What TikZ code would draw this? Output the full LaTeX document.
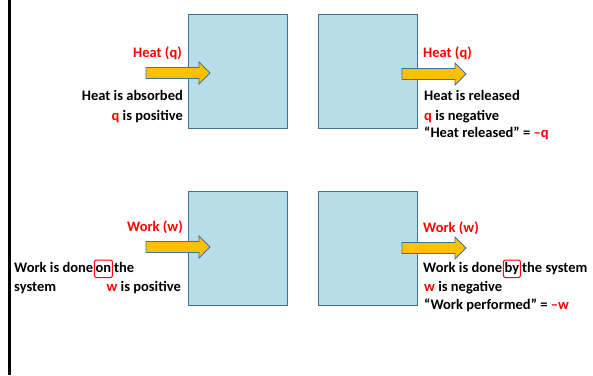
\documentclass[tikz,border=0pt]{standalone}
\usepackage{fontspec}
\setmainfont{Carlito}
\definecolor{myred}{RGB}{255,0,0}
\definecolor{boxfill}{RGB}{183,221,232}
\definecolor{boxline}{RGB}{65,113,156}
\definecolor{gold}{RGB}{255,192,0}
\tikzset{
  sysbox/.style={draw=boxline, fill=boxfill, line width=1pt, minimum width=99pt, minimum height=114pt, inner sep=0pt},
  arrowstyle/.style={draw=boxline, fill=gold, line width=0.9pt, line join=miter},
  fatarrow/.pic={\draw[arrowstyle] (0,-5.5) -- (53,-5.5) -- (53,-11) -- (64,0) -- (53,11) -- (53,5.5) -- (0,5.5) -- cycle;},
  txt/.style={inner sep=0pt, font=\bfseries\fontsize{14.5}{17}\selectfont},
  rtxt/.style={txt, text=myred},
  ringed/.style={txt, draw=myred, line width=1pt, rounded corners=2pt, inner xsep=1.2pt, inner ysep=2pt, text height=10pt, text depth=3.5pt}
}
\begin{document}
\begin{tikzpicture}[x=1pt,y=-1pt]
\useasboundingbox (0,0) rectangle (593,375);
\draw[line width=2.8pt] (9.5,0) -- (9.5,375);
% boxes
\node[sysbox] (b1) at (237.5,71) {};
\node[sysbox] (b2) at (367.5,71) {};
\node[sysbox] (b3) at (237.5,248) {};
\node[sysbox] (b4) at (367.5,248) {};
% arrows
\pic at (146,73) {fatarrow};
\pic at (402,74) {fatarrow};
\pic at (146,247) {fatarrow};
\pic at (402,248) {fatarrow};
% top left
\node[rtxt, anchor=base east] (h1) at (182,57) {Heat (q)};
\node[txt, anchor=base east] (h1a) at (183,100) {Heat is absorbed};
\node[txt, anchor=base east] (h1b) at (183,120) {\textcolor{myred}{q} is positive};
% top right
\node[rtxt, anchor=base west] (h2) at (423,57) {Heat (q)};
\node[txt, anchor=base west] (h2a) at (424,100) {Heat is released};
\node[txt, anchor=base west] (h2b) at (424,120) {\textcolor{myred}{q} is negative};
\node[txt, anchor=base west] (h2c) at (424,137) {“Heat released” = \textcolor{myred}{–q}};
% bottom left
\node[rtxt, anchor=base east] (w1) at (183,231) {Work (w)};
\node[txt, anchor=base west] (w1a) at (14,272) {Work is done};
\node[ringed, anchor=base west] (on) at ([xshift=0.5pt]w1a.base east) {on};
\node[txt, anchor=base west] (w1t) at ([xshift=1pt]on.base east) {the};
\node[txt, anchor=base west] (w1s) at (14,291) {system};
\node[txt, anchor=base east] (w1b) at (181,291) {\textcolor{myred}{w} is positive};
% bottom right
\node[rtxt, anchor=base west] (w2) at (423,232) {Work (w)};
\node[txt, anchor=base west] (w2a) at (423,272) {Work is done};
\node[ringed, anchor=base west] (by) at ([xshift=0.5pt]w2a.base east) {by};
\node[txt, anchor=base west] (w2t) at ([xshift=1pt]by.base east) {the system};
\node[txt, anchor=base west] (w2b) at (424,291) {\textcolor{myred}{w} is negative};
\node[txt, anchor=base west] (w2c) at (424,309) {“Work performed” = \textcolor{myred}{–w}};
\end{tikzpicture}
\end{document}
